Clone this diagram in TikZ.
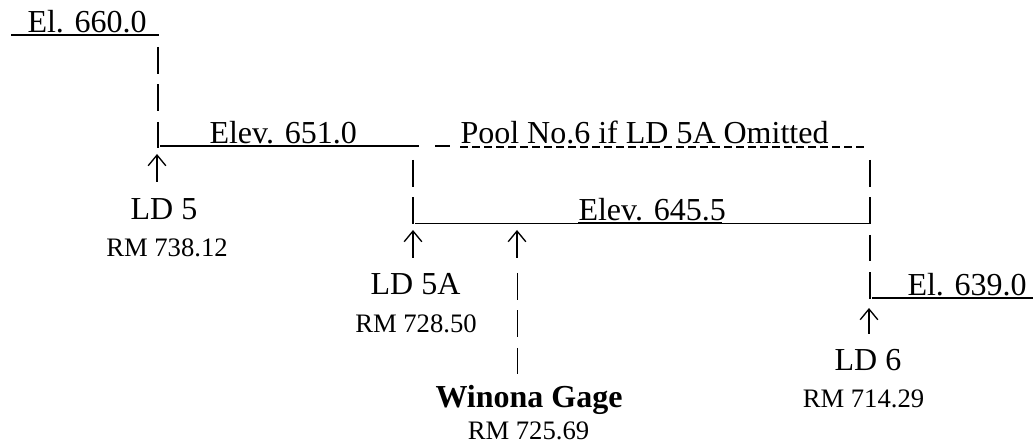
\documentclass[tikz,border=0pt]{standalone}
\usepackage{fontspec}
\setmainfont{Liberation Serif}
\usetikzlibrary{arrows.meta}
\tikzset{
  big/.style={inner sep=0pt, font=\fontsize{12}{14}\selectfont},
  small/.style={inner sep=0pt, font=\fontsize{10}{12}\selectfont},
  thinline/.style={line width=0.5pt},
  textline/.style={line width=0.75pt},
  dashline/.style={line width=0.7pt, dash pattern=on 3pt off 1.5pt},
  bars/.style={line width=0.55pt, dash pattern=on 9.94pt off 4.12pt},
  uparrow/.style={line width=0.5pt, -{Straight Barb[length=4pt,width=6.6pt]}}
}
\begin{document}
\begin{tikzpicture}[x=0.375pt,y=-0.375pt]
\useasboundingbox (0,0) rectangle (1033,445);

% texts
\node[big, anchor=base west] (el660) at (27,33) {El. 660.0};
\node[big, anchor=base west] (elev651) at (209,143.5) {Elev. 651.0};
\node[big, anchor=base west] (pool) at (460,143.5) {Pool No.6 if LD 5A Omitted};
\node[big, anchor=base west] (elev645) at (578,221) {Elev. 645.5};
\node[big, anchor=base west] (el639) at (907,295.5) {El. 639.0};
\node[big, anchor=base] (ld5) at (164,219.5) {LD 5};
\node[small, anchor=base] (rm738) at (167,257) {RM 738.12};
\node[big, anchor=base] (ld5a) at (415.5,295) {LD 5A};
\node[small, anchor=base] (rm728) at (416,333) {RM 728.50};
\node[big, anchor=base] (winona) at (529,408) {\bfseries Winona Gage};
\node[small, anchor=base] (rm725) at (528.5,440) {RM 725.69};
\node[big, anchor=base] (ld6) at (868,371) {LD 6};
\node[small, anchor=base] (rm714) at (863.5,408) {RM 714.29};

% elevation lines
\coordinate (t0) at (11,35);
\coordinate (t1) at (143,35);
\coordinate (t2) at (159,35);
\draw[textline] (t0) -- (t1);
\draw[thinline] (t1) -- (t2);

\coordinate (p0) at (160,146);
\coordinate (p1) at (209,146);
\coordinate (p2) at (355,146);
\coordinate (p3) at (419,146);
\coordinate (p4) at (435,146);
\coordinate (p5) at (450,146);
\coordinate (p6) at (460,147);
\coordinate (p7) at (868,147);
\draw[thinline] (p0) -- (p1);
\draw[textline] (p1) -- (p2);
\draw[thinline] (p2) -- (p3);
\draw[thinline] (p4) -- (p5);
\draw[dashline] (p6) -- (p7);

\coordinate (q0) at (415,223.5);
\coordinate (q1) at (578,223.5);
\coordinate (q2) at (722,223.5);
\coordinate (q3) at (869,223.5);
\draw[thinline] (q0) -- (q1);
\draw[textline] (q1) -- (q2);
\draw[thinline] (q2) -- (q3);

\coordinate (r0) at (872,298);
\coordinate (r1) at (907,298);
\coordinate (r2) at (1022,298);
\coordinate (r3) at (1033,298);
\draw[thinline] (r0) -- (r1);
\draw[textline] (r1) -- (r2);
\draw[thinline] (r2) -- (r3);

% vertical bars
\coordinate (b1s) at (158,47);   \coordinate (b1e) at (158,148);
\coordinate (b2s) at (413,160);  \coordinate (b2e) at (413,224);
\coordinate (b3s) at (870,160);  \coordinate (b3e) at (870,299);
\coordinate (b4s) at (517.5,273);\coordinate (b4e) at (517.5,376);
\draw[bars] (b1s) -- (b1e);
\draw[bars] (b2s) -- (b2e);
\draw[bars] (b3s) -- (b3e);
\draw[bars] (b4s) -- (b4e);

% arrows
\coordinate (a1s) at (157,182);   \coordinate (a1e) at (157,154);
\coordinate (a2s) at (413,258);   \coordinate (a2e) at (413,230);
\coordinate (a3s) at (517,258);   \coordinate (a3e) at (517,230);
\coordinate (a4s) at (869,334);   \coordinate (a4e) at (869,308);
\draw[uparrow] (a1s) -- (a1e);
\draw[uparrow] (a2s) -- (a2e);
\draw[uparrow] (a3s) -- (a3e);
\draw[uparrow] (a4s) -- (a4e);
\end{tikzpicture}
\end{document}
